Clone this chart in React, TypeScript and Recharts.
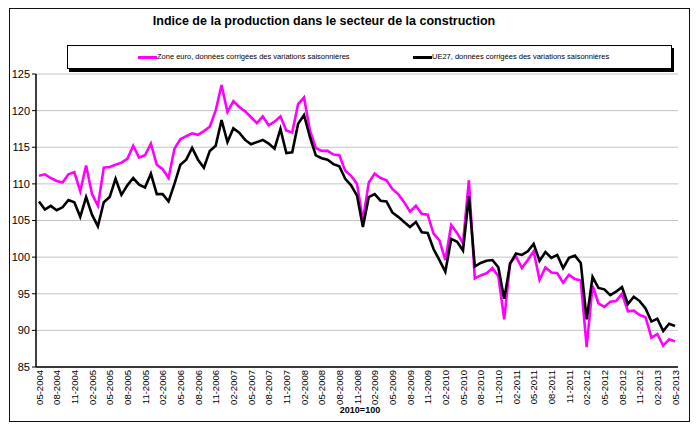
import React from 'react';
import { LineChart, Line, XAxis, YAxis, CartesianGrid } from 'recharts';

const months: string[] = [
  '05-2004', '06-2004', '07-2004', '08-2004', '09-2004', '10-2004', '11-2004', '12-2004',
  '01-2005', '02-2005', '03-2005', '04-2005', '05-2005', '06-2005', '07-2005', '08-2005', '09-2005', '10-2005', '11-2005', '12-2005',
  '01-2006', '02-2006', '03-2006', '04-2006', '05-2006', '06-2006', '07-2006', '08-2006', '09-2006', '10-2006', '11-2006', '12-2006',
  '01-2007', '02-2007', '03-2007', '04-2007', '05-2007', '06-2007', '07-2007', '08-2007', '09-2007', '10-2007', '11-2007', '12-2007',
  '01-2008', '02-2008', '03-2008', '04-2008', '05-2008', '06-2008', '07-2008', '08-2008', '09-2008', '10-2008', '11-2008', '12-2008',
  '01-2009', '02-2009', '03-2009', '04-2009', '05-2009', '06-2009', '07-2009', '08-2009', '09-2009', '10-2009', '11-2009', '12-2009',
  '01-2010', '02-2010', '03-2010', '04-2010', '05-2010', '06-2010', '07-2010', '08-2010', '09-2010', '10-2010', '11-2010', '12-2010',
  '01-2011', '02-2011', '03-2011', '04-2011', '05-2011', '06-2011', '07-2011', '08-2011', '09-2011', '10-2011', '11-2011', '12-2011',
  '01-2012', '02-2012', '03-2012', '04-2012', '05-2012', '06-2012', '07-2012', '08-2012', '09-2012', '10-2012', '11-2012', '12-2012',
  '01-2013', '02-2013', '03-2013', '04-2013', '05-2013',
];

const zoneEuro: number[] = [
  111.1, 111.3, 110.8, 110.4, 110.2, 111.3, 111.6, 109.0,
  112.5, 108.6, 107.0, 112.2, 112.3, 112.6, 112.9, 113.4, 115.2, 113.6, 113.9, 115.5,
  112.6, 112.0, 110.8, 114.8, 116.1, 116.5, 116.9, 116.7, 117.2, 117.8, 120.0, 123.5,
  119.8, 121.3, 120.5, 119.9, 119.1, 118.3, 119.2, 118.0, 118.5, 119.2, 117.3, 117.0,
  120.9, 121.8, 117.3, 114.9, 114.5, 114.5, 114.0, 113.9, 111.8, 111.1, 110.0, 105.0,
  110.2, 111.4, 110.8, 110.5, 109.3, 108.6, 107.5, 106.2, 107.0, 105.9, 105.8, 103.2,
  102.3, 99.6, 104.4, 103.3, 101.9, 110.5, 97.1, 97.5, 97.8, 98.5, 97.4, 91.5,
  99.2, 100.1, 98.5, 99.6, 100.8, 96.9, 98.6, 97.9, 97.8, 96.5, 97.6, 97.0,
  96.8, 87.7, 96.1, 93.7, 93.2, 93.9, 94.0, 95.0, 92.6, 92.7, 92.1, 91.8,
  89.0, 89.5, 87.9, 88.8, 88.5,
];

const ue27: number[] = [
  107.6, 106.5, 107.0, 106.4, 106.8, 107.8, 107.5, 105.5,
  108.2, 105.8, 104.2, 107.5, 108.2, 110.7, 108.5, 109.8, 110.8, 109.9, 109.5, 111.4,
  108.6, 108.6, 107.6, 110.0, 112.6, 113.3, 114.9, 113.3, 112.2, 114.5, 115.2, 118.7,
  115.7, 117.6, 117.0, 116.0, 115.4, 115.7, 116.0, 115.5, 114.8, 117.5, 114.2, 114.3,
  118.2, 119.4, 116.4, 113.9, 113.5, 113.3, 112.7, 112.4, 110.7, 109.8, 108.4, 104.1,
  108.2, 108.6, 107.7, 107.6, 106.1, 105.5, 104.8, 104.1, 104.8, 103.4, 103.3, 101.1,
  99.6, 98.0, 102.5, 102.1, 100.9, 108.3, 98.7, 99.2, 99.5, 99.6, 98.6, 94.3,
  99.1, 100.5, 100.3, 100.8, 101.8, 99.5, 100.7, 99.9, 100.3, 98.5, 99.9, 100.2,
  99.2, 91.5, 97.3, 95.8, 95.6, 94.8, 95.3, 95.9, 93.6, 94.6, 94.0, 93.0,
  91.2, 91.6, 89.9, 90.9, 90.6,
];

const yTicks: number[] = [85, 90, 95, 100, 105, 110, 115, 120, 125];

const seriesNames = {
  euro: 'Zone euro, données corrigées des variations saisonnières',
  ue27: 'UE27, données corrigées des variations saisonnières',
};

const data = months.map((m, i) => ({ month: m, euro: zoneEuro[i], ue27: ue27[i] }));

const FONT = '"Liberation Sans", Arial, sans-serif';

const XTick = (props: any) => {
  const { x, y, payload } = props;
  return (
    <text
      x={x}
      y={y}
      transform={`rotate(-90 ${x} ${y})`}
      textAnchor="end"
      dominantBaseline="central"
      fontSize={9.5}
      fontFamily={FONT}
      fill="#000"
    >
      {payload.value}
    </text>
  );
};

export default function App() {
  return (
    <div style={{ position: 'relative', width: 682, height: 414, fontFamily: FONT, background: '#fff' }}>
      <div
        style={{
          position: 'absolute',
          left: 1,
          top: 0,
          width: 681,
          height: 414,
          border: '1.5px solid #111',
          boxSizing: 'border-box',
        }}
      />
      <div
        style={{
          position: 'absolute',
          left: 316,
          top: 6,
          transform: 'translateX(-50%)',
          whiteSpace: 'nowrap',
          fontSize: 12.5,
          fontWeight: 'bold',
          color: '#000',
        }}
      >
        Indice de la production dans le secteur de la construction
      </div>
      <div
        style={{
          position: 'absolute',
          left: 59,
          top: 37,
          width: 605,
          height: 24,
          border: '1px solid #000',
          boxSizing: 'border-box',
          boxShadow: '2px 3px 0 #000',
          background: '#fff',
        }}
      >
        <div style={{ position: 'absolute', left: 70, top: 10, width: 19, height: 3, background: '#ff00ff' }} />
        <div style={{ position: 'absolute', left: 89, top: 5, fontSize: 7.5, lineHeight: '12px', whiteSpace: 'nowrap' }}>
          {seriesNames.euro}
        </div>
        <div style={{ position: 'absolute', left: 345, top: 10, width: 19, height: 3, background: '#000' }} />
        <div style={{ position: 'absolute', left: 364, top: 5, fontSize: 7.5, lineHeight: '12px', whiteSpace: 'nowrap' }}>
          {seriesNames.ue27}
        </div>
      </div>
      <div
        style={{
          position: 'absolute',
          left: 352,
          top: 397,
          transform: 'translateX(-50%)',
          fontSize: 9,
          fontWeight: 'bold',
          whiteSpace: 'nowrap',
        }}
      >
        2010=100
      </div>
      <div style={{ position: 'absolute', left: 0, top: 0 }}>
        <LineChart
          width={682}
          height={414}
          data={data}
          margin={{ top: 66, right: 12, bottom: 0, left: 0 }}
        >
          <CartesianGrid vertical={false} stroke="#c4c4c4" strokeWidth={1} />
          <XAxis
            dataKey="month"
            interval={2}
            tick={<XTick />}
            tickLine={false}
            tickSize={0}
            tickMargin={3}
            height={55}
            padding={{ left: 3, right: 3 }}
            axisLine={{ stroke: '#000', strokeWidth: 1.5 }}
          />
          <YAxis
            domain={[85, 125]}
            ticks={yTicks}
            interval={0}
            width={28}
            tickSize={4}
            tickMargin={2}
            tickLine={{ stroke: '#000' }}
            axisLine={{ stroke: '#000', strokeWidth: 1.5 }}
            tick={{ fontSize: 11, fill: '#000', fontFamily: FONT }}
          />
          <Line
            type="linear"
            dataKey="euro"
            name={seriesNames.euro}
            stroke="#ff00ff"
            strokeWidth={2.6}
            dot={false}
            isAnimationActive={false}
          />
          <Line
            type="linear"
            dataKey="ue27"
            name={seriesNames.ue27}
            stroke="#000"
            strokeWidth={2.6}
            dot={false}
            isAnimationActive={false}
          />
        </LineChart>
      </div>
    </div>
  );
}
